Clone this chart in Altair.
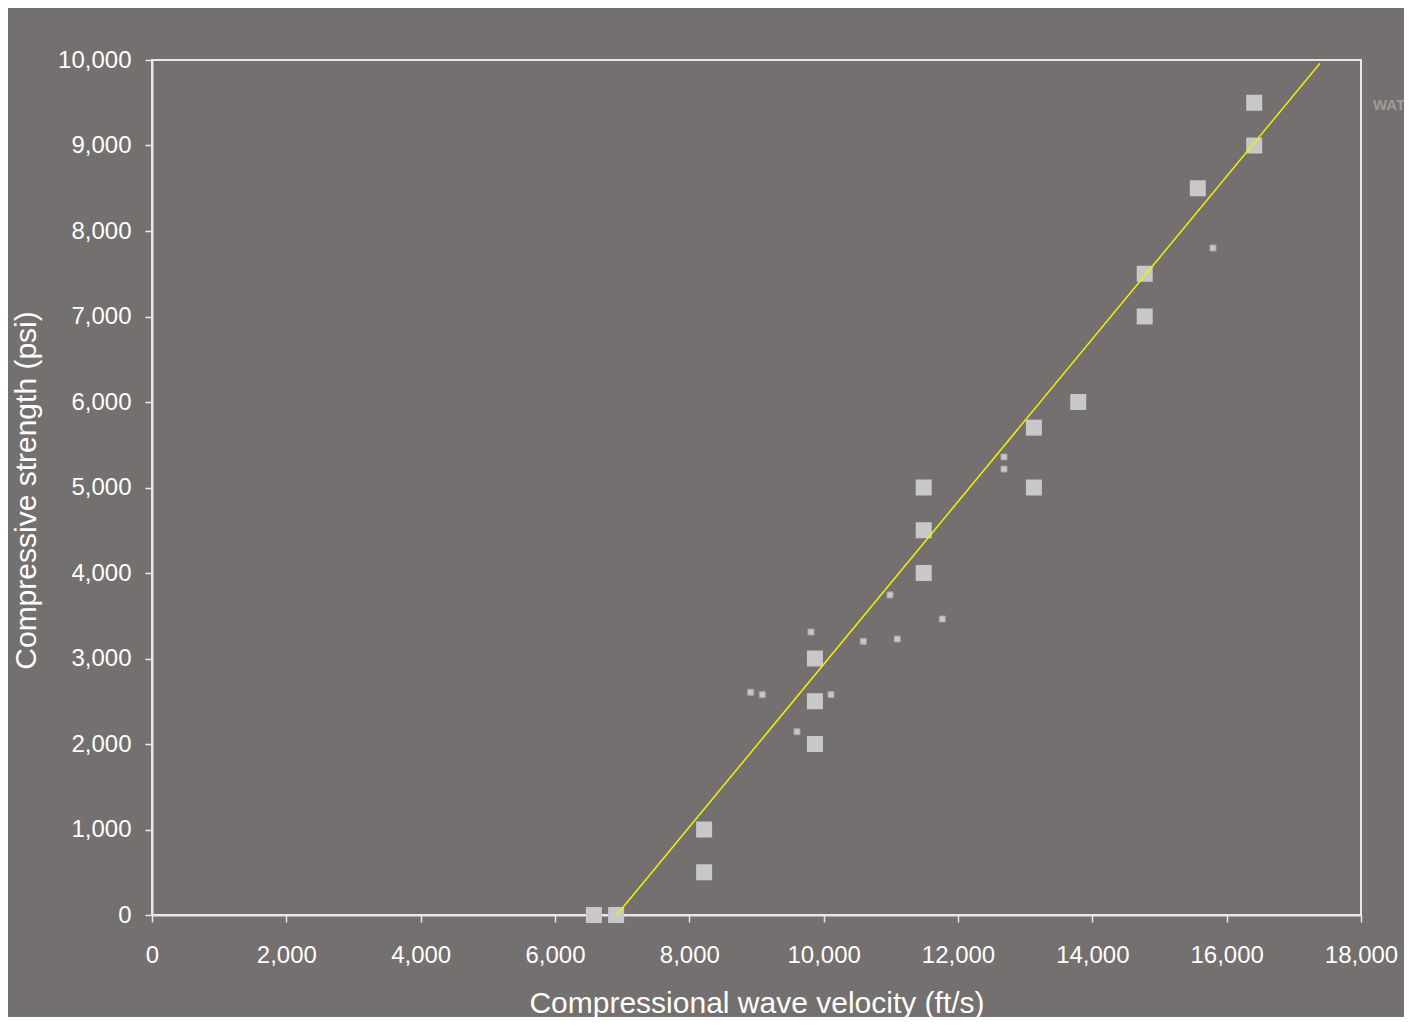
import altair as alt
import pandas as pd

# Large squares (laboratory data)
large_x = [6580, 6910, 8220, 8220, 9870, 9870, 9870, 11490, 11490, 11490,
           13130, 13130, 13790, 14780, 14780, 15570, 16410, 16410]
large_y = [0, 0, 1000, 500, 3000, 2500, 2000, 5000, 4500, 4000,
           5700, 5000, 6000, 7500, 7000, 8500, 9500, 9000]

# Small squares
small_x = [8914, 9086, 9811, 9603, 10109, 10590, 11096, 11766, 10988, 12685, 12685, 15796]
small_y = [2605, 2577, 3310, 2144, 2577, 3201, 3228, 3462, 3743, 5357, 5216, 7801]

# Trend line end points
line_x = [6918, 17390]
line_y = [0, 9962]

x_ticks = list(range(0, 18001, 2000))
y_ticks = list(range(0, 10001, 1000))
legend_label = ["WATER"]

BG = "#74706F"
FRAME = "#E8E8E8"
FONT = "Liberation Sans"

df_large = pd.DataFrame({"v": large_x, "s": large_y})
df_small = pd.DataFrame({"v": small_x, "s": small_y})
df_line = pd.DataFrame({"v": line_x, "s": line_y})
df_text = pd.DataFrame({"t": legend_label})

xscale = alt.Scale(domain=[0, 18000], nice=False, zero=False)
yscale = alt.Scale(domain=[0, 10000], nice=False, zero=False)

xaxis = alt.Axis(
    values=x_ticks, format=",d", grid=False,
    labelFont=FONT, labelFontSize=24, labelColor="white", labelPadding=21,
    labelFlush=False, labelOverlap=False,
    tickColor=FRAME, tickSize=7, tickWidth=1.5,
    domainColor=FRAME, domainWidth=2,
    title="Compressional wave velocity (ft/s)",
    titleFont=FONT, titleFontSize=30, titleFontWeight="normal", titleColor="white",
    titleBaseline="alphabetic", titleY=97,
)
yaxis = alt.Axis(
    values=y_ticks, format=",d", grid=False,
    labelFont=FONT, labelFontSize=24, labelColor="white", labelPadding=14,
    labelFlush=False, labelOverlap=False,
    tickColor=FRAME, tickSize=7, tickWidth=1.5,
    domainColor=FRAME, domainWidth=2,
    title="Compressive strength (psi)",
    titleFont=FONT, titleFontSize=30, titleFontWeight="normal", titleColor="white",
    titleBaseline="alphabetic", titleAngle=270, titleAlign="center",
    titleX=-117, titleY=430,
)

large = alt.Chart(df_large).mark_square(
    size=256, color="#C8C8C8", filled=True, opacity=1
).encode(
    x=alt.X("v:Q", scale=xscale, axis=xaxis),
    y=alt.Y("s:Q", scale=yscale, axis=yaxis),
)

small = alt.Chart(df_small).mark_square(
    size=36, color="#C8C8C8", filled=True, opacity=1,
    stroke="#A4A2A1", strokeWidth=1
).encode(
    x=alt.X("v:Q", scale=xscale),
    y=alt.Y("s:Q", scale=yscale),
)

trend = alt.Chart(df_line).mark_line(color="#F2F200", strokeWidth=1.5).encode(
    x=alt.X("v:Q", scale=xscale),
    y=alt.Y("s:Q", scale=yscale),
)

label = alt.Chart(df_text).mark_text(
    font=FONT, fontSize=15, fontWeight="bold", color="#9E9B9A",
    align="left", baseline="middle"
).encode(
    x=alt.value(1221), y=alt.value(45), text="t:N"
)

chart = alt.layer(large, small, trend, label).properties(
    width=1209, height=855,
    autosize=alt.AutoSizeParams(type="none"),
    padding={"left": 144, "top": 52, "right": 43, "bottom": 102},
    background=BG,
).configure_view(
    stroke=FRAME, strokeWidth=2
)

chart.save("out.html", embed_options={"renderer": "svg", "actions": False})
